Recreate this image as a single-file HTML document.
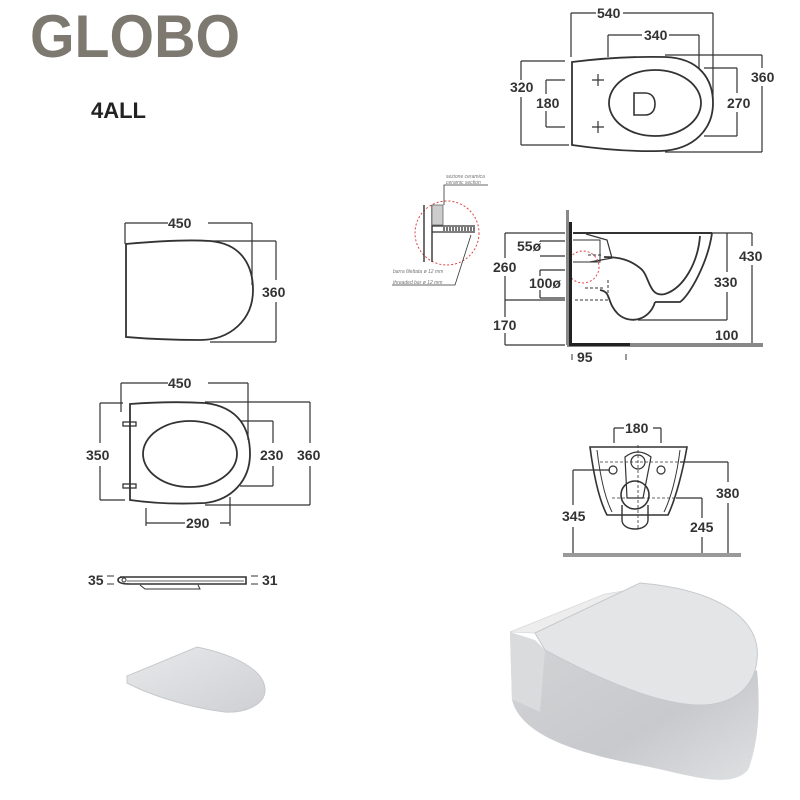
<!DOCTYPE html>
<html><head><meta charset="utf-8"><style>
html,body{margin:0;padding:0;background:#fff;}
svg{display:block;}
text{font-family:"Liberation Sans",sans-serif;fill:#333;}
.d{font-size:14px;font-weight:bold;}
</style></head><body>
<svg width="800" height="800" viewBox="0 0 800 800" xmlns="http://www.w3.org/2000/svg">
<defs>
<linearGradient id="g1" x1="0" y1="0" x2="1" y2="1"><stop offset="0" stop-color="#e8e9eb"/><stop offset="1" stop-color="#cfd0d3"/></linearGradient>
<linearGradient id="g2" x1="0" y1="0" x2="1" y2="1"><stop offset="0" stop-color="#d3d4d6"/><stop offset="0.6" stop-color="#c8c9cc"/><stop offset="1" stop-color="#dfe0e2"/></linearGradient>
</defs>
<!-- logo -->
<text x="30" y="57" font-size="60" font-weight="bold" textLength="210" lengthAdjust="spacingAndGlyphs" style="fill:#7d7870;font-family:'Liberation Sans',sans-serif;font-weight:bold">GLOBO</text>
<text x="91" y="118" font-size="22" font-weight="bold" style="fill:#222">4ALL</text>

<g stroke="#333" stroke-width="1.2" fill="none">
<!-- TOP VIEW -->
<path d="M571,13 V57 M713,13 V100 M571,13 H596 M623,13 H713"/>
<path d="M608,35 V57 M699,35 V68 M608,35 H642 M669,35 H699"/>
<path d="M572,62 Q620,56 665,57 C700,58 713,80 713,103 C713,128 695,150 660,151 Q620,152 572,145 Z" stroke-width="1.8"/>
<ellipse cx="655" cy="103" rx="46" ry="33" stroke-width="1.8"/>
<path d="M634,93 H645 C652,93 655,98 655,104 C655,110 652,115 645,115 H634 Z" stroke-width="1.6"/>
<path d="M592,80 H604 M598,74 V86 M592,127 H604 M598,121 V133"/>
<path d="M521,61 H565 M521,145 H569 M521,61 V80 M521,97 V145"/>
<path d="M546,80 H565 M546,127 H565 M546,80 V94 M546,111 V127"/>
<path d="M704,68 H737 M704,136 H737 M737,68 V93 M737,112 V136"/>
<path d="M665,55 H762 M665,152 H762 M762,55 V68 M762,86 V152"/>

<!-- SEAT VIEW 1 -->
<path d="M125,223 V244 M252,223 V285 M125,223 H168 M208,223 H252"/>
<path d="M126,244 Q180,239 210,241 C245,244 253,270 253,290 C253,320 230,340 200,340 Q160,340 126,337 Z" stroke-width="1.8"/>
<path d="M210,241 H276 M210,342 H276 M276,241 V280 M276,302 V342"/>

<!-- SEAT VIEW 2 -->
<path d="M121,383 V412 M248,383 V440 M121,383 H168 M208,383 H248"/>
<path d="M130,404 Q170,401 205,403 C240,407 250,430 250,454 C250,480 232,500 205,503 Q165,505 130,500 Z" stroke-width="1.8"/>
<ellipse cx="190" cy="454" rx="47" ry="33" stroke-width="1.8"/>
<rect x="123" y="422" width="13" height="4" stroke-width="1.3"/>
<rect x="123" y="484" width="13" height="4" stroke-width="1.3"/>
<path d="M100,403 H123 M100,500 H125 M100,403 V443 M100,466 V500"/>
<path d="M240,421 H273 M240,486 H273 M273,421 V443 M273,466 V486"/>
<path d="M205,402 H310 M205,505 H310 M310,402 V443 M310,466 V505"/>
<path d="M146,508 V526 M230,497 V526 M146,523 H185 M220,523 H230"/>

<!-- SEAT SIDE -->
<path d="M120,577 H246 V584 H130 Q118,584 118,580 Q118,577 124,577 Z" stroke-width="1.6"/>
<path d="M127,581 H244" stroke-width="0.8"/>
<path d="M140,585 L145,589 H200 L198,585" stroke-width="1"/>
<circle cx="124" cy="580" r="2" stroke-width="1"/>
<path d="M107,576 H114 M107,584 H114 M251,576 H258 M251,584 H258" stroke-width="1"/>

<!-- SIDE SECTION -->
<path d="M573,233 H712" stroke-width="2"/>
<path d="M712,233 C708,262 690,295 680,302 L655,302" stroke-width="1.8"/>
<path d="M700,236 C698,262 684,288 665,294 C648,298 650,275 640,268 C630,260 620,257 604,257" stroke-width="1.8"/>
<path d="M655,302 C650,320 630,325 618,314 C606,302 612,292 600,290" stroke-width="1.8"/>
<path d="M586,234 L607,240 L612,258 L590,262" stroke-width="1.2"/>
<path d="M573,240 H600 V262 H573" stroke-width="1"/>
<path d="M575,300 H608 V280" stroke-width="1" stroke-dasharray="3,2"/>
<path d="M588,255 H602 M585,288 H603" stroke-width="1" stroke-dasharray="3,2"/>
<path d="M505,233 H565 M505,300 H565 M505,345 H565 M505,233 V258 M505,276 V317 M505,333 V345"/>
<path d="M540,241 H565 M540,256 H565 M540,270 H565 M540,298 H565 M540,270 V276 M540,290 V298 M540,241 V242"/>
<path d="M712,233 H752 M638,320 H727 M727,233 V272 M727,292 V320 M752,233 V246 M752,265 V345"/>
<path d="M572,354 V360 M626,354 V360" stroke-width="1"/>
<!-- detail -->
<circle cx="447" cy="233" r="32" stroke="#d44" stroke-width="1" stroke-dasharray="2,2"/>
<circle cx="583" cy="267" r="16" stroke="#d44" stroke-width="1" stroke-dasharray="2,2"/>
<path d="M424,205 V262 M432,205 V262" stroke-width="1.4"/>
<rect x="432" y="205" width="11" height="20" fill="#ccc" stroke="#666" stroke-width="0.8"/>
<path d="M432,226 H475 M432,232 H475" stroke-width="1.2"/>
<path d="M443,229 H475" stroke="#777" stroke-width="4" stroke-dasharray="2,1"/>
<path d="M444,205 V185 H488 M471,235 L455,285 H392" stroke-width="0.8"/>
</g>
<g fill="#888"><rect x="566" y="210" width="3" height="135"/><rect x="567" y="343" width="196" height="4"/></g>
<rect x="569" y="222" width="3" height="123" fill="#222"/>
<rect x="569" y="343" width="61" height="3" fill="#222"/>
<g><text x="446" y="178" style="fill:#777;font-size:5px;font-style:italic">sezione ceramica</text><text x="446" y="184" style="fill:#777;font-size:5px;font-style:italic">ceramic section</text><text x="393" y="273" style="fill:#777;font-size:5px;font-style:italic">barra filettata ø 12 mm</text><text x="393" y="284" style="fill:#777;font-size:5px;font-style:italic">threaded bar ø 12 mm</text></g>

<!-- FRONT VIEW -->
<g stroke="#333" stroke-width="1.2" fill="none">
<path d="M614,428 V443 M661,428 V443 M614,428 H624 M653,428 H661"/>
<path d="M590,447 H687 C683,470 676,498 668,515 L607,515 C598,498 593,470 590,447 Z" stroke-width="1.6"/>
<path d="M597,450 C600,475 605,498 612,512 M680,450 C677,475 671,498 664,512" stroke-width="1"/>
<path d="M625,457 Q638,447 651,457 L643,498 H627 Z" stroke-width="1.2"/>
<circle cx="638" cy="462" r="7"/>
<circle cx="635" cy="495" r="14" stroke-width="1.6"/>
<path d="M622,505 V520 C622,532 648,532 648,520 V505" stroke-width="1.4"/>
<circle cx="613" cy="470" r="4"/><circle cx="661" cy="470" r="4"/>
<path d="M600,462 H690 M612,498 H700 M638,445 V530" stroke-width="0.8" stroke-dasharray="3,2"/>
<path d="M573,470 H610 M573,470 V505 M573,527 V555"/>
<path d="M680,462 H728 M728,462 V482 M728,503 V555 M676,498 H702 M702,498 V518 M702,537 V555"/>
</g>
<rect x="563" y="553" width="178" height="4" fill="#999"/>

<!-- text dims -->
<g>
<text x="597" y="18" class="d">540</text>
<text x="644" y="40" class="d">340</text>
<text x="510" y="92" class="d">320</text>
<text x="536" y="108" class="d">180</text>
<text x="727" y="108" class="d">270</text>
<text x="751" y="82" class="d">360</text>
<text x="168" y="228" class="d">450</text>
<text x="262" y="297" class="d">360</text>
<text x="168" y="388" class="d">450</text>
<text x="86" y="460" class="d">350</text>
<text x="260" y="460" class="d">230</text>
<text x="297" y="460" class="d">360</text>
<text x="186" y="528" class="d">290</text>
<text x="88" y="585" class="d">35</text>
<text x="262" y="585" class="d">31</text>
<text x="517" y="251" class="d">55ø</text>
<text x="529" y="288" class="d">100ø</text>
<text x="493" y="272" class="d">260</text>
<text x="493" y="330" class="d">170</text>
<text x="739" y="261" class="d">430</text>
<text x="714" y="287" class="d">330</text>
<text x="715" y="340" class="d">100</text>
<text x="577" y="362" class="d">95</text>
<text x="625" y="433" class="d">180</text>
<text x="562" y="521" class="d">345</text>
<text x="716" y="498" class="d">380</text>
<text x="690" y="532" class="d">245</text>
</g>

<!-- seat photo -->
<path d="M127,676 L197,647 C235,655 265,670 265,690 C265,705 245,713 225,712 C190,708 150,695 127,683 Z" fill="url(#g1)" stroke="#c8c9cc" stroke-width="1"/>

<!-- toilet photo -->
<path d="M510,632 L512,700 C520,730 560,750 640,765 C690,775 730,790 748,770 C760,740 760,700 757,670 L700,705 L545,650 Z" fill="url(#g2)"/>
<path d="M510,632 L535,640 L545,650 L540,712 C525,705 514,700 512,700 Z" fill="#dadbdd"/>
<path d="M510,632 L605,594 L630,590 L535,633 Z" fill="#ededee" stroke="#d8d9db" stroke-width="0.8"/>
<path d="M535,633 L640,583 C720,590 762,620 757,660 C754,690 730,705 700,705 C660,705 600,680 545,650 Z" fill="#e4e5e7" stroke="#c8c9cc" stroke-width="1"/>
</svg>
</body></html>
